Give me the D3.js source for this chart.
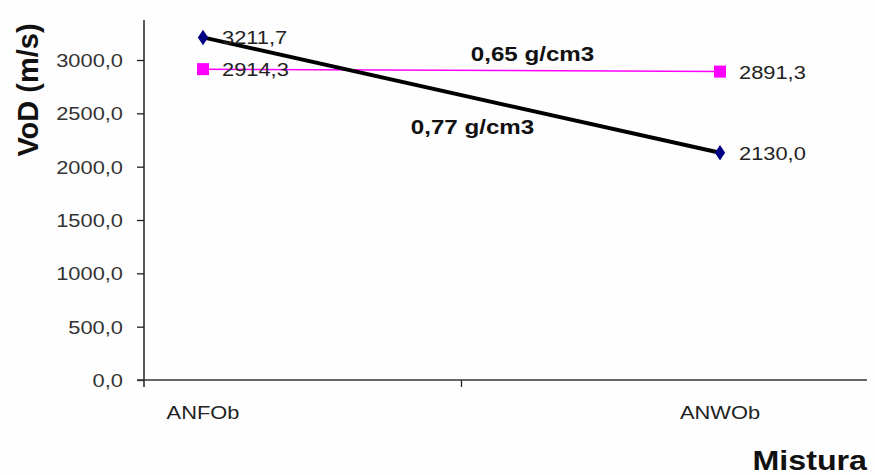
<!DOCTYPE html>
<html>
<head>
<meta charset="utf-8">
<script src="https://cdn.jsdelivr.net/npm/d3@7"></script>
<style>
  html, body { margin: 0; padding: 0; background: #fefefe; }
  svg { display: block; }
  text { font-family: "Liberation Sans", Arial, sans-serif; }
</style>
</head>
<body>
<svg id="chart" width="875" height="475"></svg>
<script>
// ---- data ----
const categories = ["ANFOb", "ANWOb"];
const seriesNames = ["0,65 g/cm3", "0,77 g/cm3"];
const values065 = [2914.3, 2891.3];
const values077 = [3211.7, 2130.0];
const yTickValues = [0, 500, 1000, 1500, 2000, 2500, 3000];
const yTitle = "VoD (m/s)";
const xTitle = "Mistura";

// ---- layout ----
const svg = d3.select("#chart");
const axisX0 = 144, axisX1 = 867, axisY0 = 380, axisY1 = 20;
const sx = 1.15; // horizontal text stretch of the reference

const fmt = v => d3.format(".1f")(v).replace(".", ",");

const x = d3.scalePoint().domain(categories).range([203, 720]);
const y = d3.scaleLinear().domain([0, 3375]).range([axisY0, axisY1]);

function stext(g, px, py, str, opts) {
  const t = g.append("text")
    .attr("transform", `translate(${px},${py}) scale(${opts.sx || sx},1)`)
    .attr("text-anchor", opts.anchor || "start")
    .attr("font-size", opts.size)
    .attr("font-weight", opts.weight || "normal")
    .attr("fill", opts.fill || "#222")
    .text(str);
  return t;
}

// y axis
const yAxis = d3.axisLeft(y).tickValues(yTickValues).tickSize(7).tickFormat("");
const gy = svg.append("g").attr("transform", `translate(${axisX0},0)`).call(yAxis);
gy.select(".domain").remove();
gy.selectAll(".tick line").attr("stroke", "#222").attr("stroke-width", 1.3);
svg.append("line").attr("x1", axisX0).attr("x2", axisX0).attr("y1", axisY1).attr("y2", axisY0 + 7)
  .attr("stroke", "#222").attr("stroke-width", 1.5);
yTickValues.forEach(v => {
  stext(svg, 123, y(v) + 7, fmt(v), { anchor: "end", size: 19, fill: "#333" });
});

// x axis
svg.append("line").attr("x1", axisX0 - 7).attr("x2", axisX1).attr("y1", axisY0).attr("y2", axisY0)
  .attr("stroke", "#333").attr("stroke-width", 1.5);
const midX = (x(categories[0]) + x(categories[1])) / 2;
svg.append("line").attr("x1", midX).attr("x2", midX).attr("y1", axisY0).attr("y2", axisY0 + 7)
  .attr("stroke", "#222").attr("stroke-width", 1.3);
categories.forEach(c => {
  stext(svg, x(c), 419, c, { anchor: "middle", size: 19, fill: "#222" });
});

// titles
svg.append("text")
  .attr("transform", `translate(38,90) rotate(-90)`)
  .attr("text-anchor", "middle")
  .attr("font-size", 29).attr("font-weight", "bold").attr("fill", "#111")
  .text(yTitle);
stext(svg, axisX1, 470, xTitle, { anchor: "end", size: 28, weight: "bold", fill: "#111" });

// series 0,65 (magenta)
const line = d3.line().x((d, i) => x(categories[i])).y(d => y(d));
svg.append("path").datum(values065).attr("d", line)
  .attr("fill", "none").attr("stroke", "#ff00ff").attr("stroke-width", 1.5);
// series 0,77 (black)
svg.append("path").datum(values077).attr("d", line)
  .attr("fill", "none").attr("stroke", "#000").attr("stroke-width", 4);

// markers
svg.selectAll(".sq").data(values065).enter().append("rect")
  .attr("x", (d, i) => x(categories[i]) - 6).attr("y", d => y(d) - 6)
  .attr("width", 12).attr("height", 12).attr("fill", "#ff00ff");
const diamond = d3.symbol().type(d3.symbolDiamond).size(70);
svg.selectAll(".dm").data(values077).enter().append("path")
  .attr("d", diamond)
  .attr("transform", (d, i) => `translate(${x(categories[i])},${y(d)}) scale(1.15,1)`)
  .attr("fill", "#000080");

// data labels
values065.forEach((v, i) => stext(svg, x(categories[i]) + 19, y(v) + 7, fmt(v), { size: 19, fill: "#222" }));
values077.forEach((v, i) => stext(svg, x(categories[i]) + 19, y(v) + 7, fmt(v), { size: 19, fill: "#222" }));

// series name labels
stext(svg, midX + 71, y((values065[0] + values065[1]) / 2) - 9, seriesNames[0],
  { anchor: "middle", size: 21, weight: "bold", fill: "#111" });
stext(svg, midX + 11, y((values077[0] + values077[1]) / 2) + 39, seriesNames[1],
  { anchor: "middle", size: 21, weight: "bold", fill: "#111" });
</script>
</body>
</html>
